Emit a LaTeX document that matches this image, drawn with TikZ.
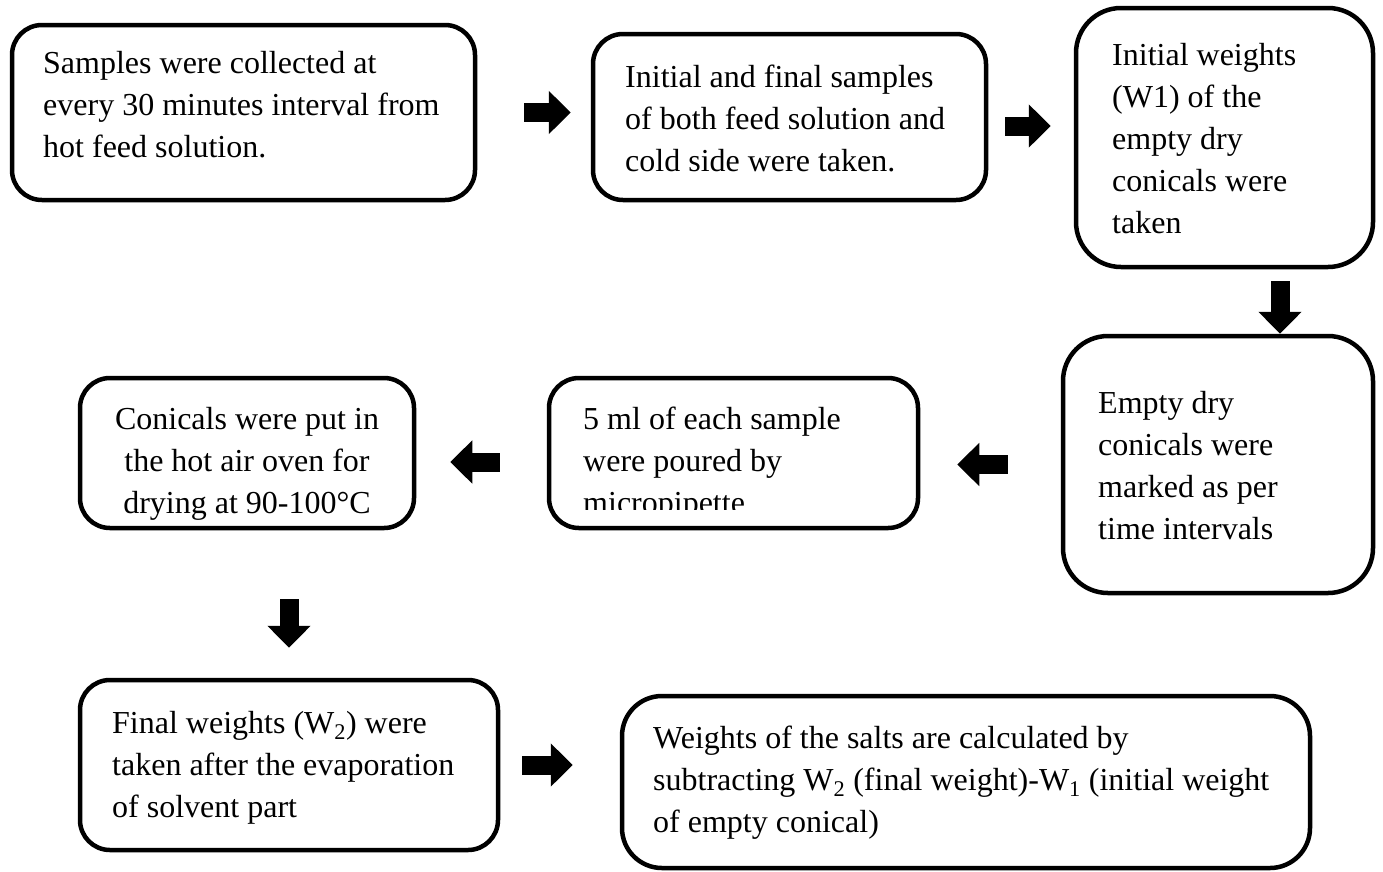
\documentclass[tikz,border=0pt]{standalone}
\usepackage{fontspec}
\setmainfont{Liberation Serif}
\usetikzlibrary{arrows.meta, calc}

\begin{document}
\begin{tikzpicture}[x=1pt, y=-1pt,
    stepbox/.style={draw, line width=4.5pt, rounded corners=#1, inner sep=0pt},
    stepbox/.default=30pt,
    steptext/.style={inner sep=0pt, align=left, font=\fontsize{32}{42}\selectfont},
    fat/.style={line width=19pt, -{Triangle[length=22pt, width=42pt]}}]
    \useasboundingbox (0,0) rectangle (1383,871);
    % boxes
    \node[stepbox, minimum width=463pt, minimum height=175pt] (S1) at (243.5,112.5) {};
    \node[stepbox, minimum width=393pt, minimum height=166pt] (S2) at (789.5,117) {};
    \node[stepbox=45pt, minimum width=297pt, minimum height=259pt] (S3) at (1224.5,137.5) {};
    \node[stepbox=45pt, minimum width=310pt, minimum height=257pt] (S4) at (1218,464.5) {};
    \node[stepbox, minimum width=369pt, minimum height=150pt] (S5) at (733.5,453) {};
    \node[stepbox, minimum width=334pt, minimum height=150pt] (S6) at (247,453) {};
    \node[stepbox, minimum width=418pt, minimum height=170pt] (S7) at (289,765) {};
    \node[stepbox=40pt, minimum width=688pt, minimum height=172pt] (S8) at (966,782) {};
    % texts (placed by the baseline of their last line)
    \node[steptext, anchor=base west] (T1) at (43,157)
        {Samples were collected at\\every 30 minutes interval from\\hot feed solution.};
    \node[steptext, anchor=base west] (T2) at (625,171)
        {Initial and final samples\\of both feed solution and\\cold side were taken.};
    \node[steptext, anchor=base west] (T3) at (1112,233)
        {Initial weights\\(W1) of the\\empty dry\\conicals were\\taken};
    \node[steptext, anchor=base west] (T4) at (1098,539)
        {Empty dry\\conicals were\\marked as per\\time intervals};
    \begin{scope}
        \clip (549,378) rectangle (918,509);
        \node[steptext, anchor=base west] (T5) at (583,513)
            {5 ml of each sample\\were poured by\\micropipette};
    \end{scope}
    \node[steptext, align=center, anchor=base] (T6) at (247,513)
        {Conicals were put in\\the hot air oven for\\drying at 90-100°C};
    \node[steptext, anchor=base west] (T7) at (112,817)
        {Final weights (W\textsubscript{2}) were\\taken after the evaporation\\of solvent part};
    \node[steptext, anchor=base west] (T8) at (653,832)
        {Weights of the salts are calculated by\\subtracting W\textsubscript{2} (final weight)-W\textsubscript{1} (initial weight\\of empty conical)};
    % arrows
    \draw[fat, shorten <=47pt, shorten >=20pt] (S1.east) -- (S1.east -| S2.west);
    \draw[fat, shorten <=17pt, shorten >=23pt]
        ($(S2.east)+(0,9)$) -- ($(S2.east -| S3.west)+(0,9)$);
    \draw[fat, shorten <=12pt] ($(S3.south)+(55.5,0)$) -- ($(S4.north)+(62,0)$);
    \draw[fat, shorten <=53pt, shorten >=37pt] (S4.west) -- (S4.west -| S5.east);
    \draw[fat, shorten <=47pt, shorten >=34pt]
        ($(S5.west)+(0,9)$) -- ($(S6.east)+(0,9)$);
    \draw[fat, shorten <=69pt, shorten >=30pt] (S7.north |- S6.south) -- (S7.north);
    \draw[fat, shorten <=22pt, shorten >=47pt] (S7.east) -- (S7.east -| S8.west);
\end{tikzpicture}
\end{document}
